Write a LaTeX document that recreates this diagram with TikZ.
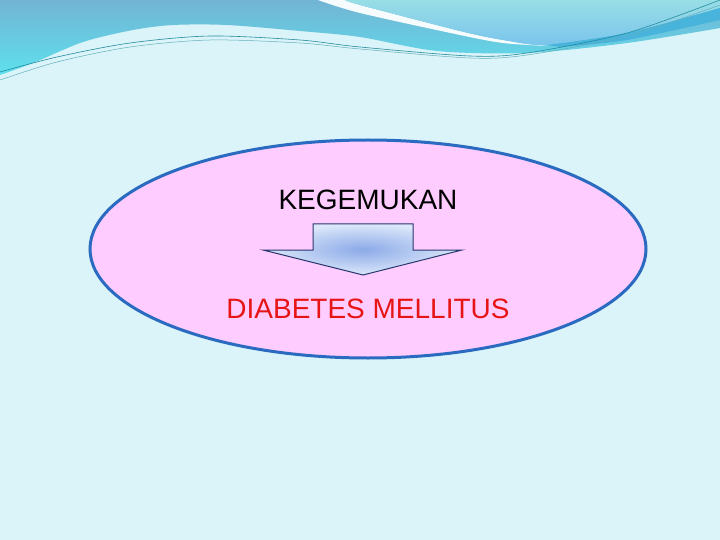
\documentclass[tikz,border=0pt]{standalone}
\usepackage{fontspec}
\setmainfont{Liberation Sans}
\usetikzlibrary{shapes.geometric}

\definecolor{bgcyan}{RGB}{218,244,249}
\definecolor{wavedark}{RGB}{114,180,212}
\definecolor{wavebright}{RGB}{94,224,236}
\definecolor{swooshtop}{RGB}{152,222,230}
\definecolor{swooshlow}{RGB}{122,196,236}
\definecolor{stripeblue}{RGB}{72,180,220}
\definecolor{tealline}{RGB}{36,140,156}
\definecolor{ovalpink}{RGB}{255,204,255}
\definecolor{ovalblue}{RGB}{42,106,192}
\definecolor{arrowlight}{RGB}{220,232,250}
\definecolor{arrowmid}{RGB}{140,170,232}
\definecolor{arrowedge}{RGB}{40,56,110}
\definecolor{textred}{RGB}{230,20,20}

\tikzset{
  label/.style={font=\fontsize{28}{33}\selectfont, inner sep=0pt},
  arrowline/.style={draw=arrowedge, line width=1pt, inner color=arrowmid, outer color=arrowlight},
}

\begin{document}
\begin{tikzpicture}[x=1pt, y=-1pt]
  \fill[bgcyan] (0,0) rectangle (720,540);
  \useasboundingbox (0,0) rectangle (720,540);

  % top wave
  \shade[top color=wavedark, bottom color=wavebright]
    (0,0) -- (720,0) -- plot[smooth] coordinates {(720,28) (627,43) (527,53) (437,51)
      (360,37) (300,31) (227,25) (173,25) (133,30) (83,42) (33,63) (0,75)} -- cycle;
  \fill[white!75!bgcyan] plot[smooth] coordinates {(318,0) (360,13) (460,35) (503,43) (547,46)}
    -- plot[smooth] coordinates {(547,46) (503,40) (460,31) (360,5) (345,0)} -- cycle;
  \shade[top color=swooshtop, bottom color=swooshlow]
    plot[smooth] coordinates {(345,0) (360,5) (460,31) (503,40) (547,45) (627,33) (720,8)}
    -- (720,0) -- cycle;
  \fill[stripeblue] plot[smooth] coordinates {(547,45) (627,33) (720,8)}
    -- plot[smooth] coordinates {(720,20) (627,40) (560,47)} -- cycle;
  \draw[tealline, line width=0.6pt] plot[smooth] coordinates {(0,72) (57,57) (130,43) (210,36)
    (300,40) (360,47) (470,56) (527,53) (627,33) (720,0)};
  \draw[tealline!70, line width=0.5pt] plot[smooth] coordinates {(0,80) (57,62) (130,47) (210,40)
    (300,43) (360,49) (470,58) (527,55) (627,36) (720,5)};

  % oval
  \node[ellipse, draw=ovalblue, line width=3pt, fill=ovalpink,
        minimum width=556pt, minimum height=218pt] (oval) at (368,249) {};

  \node[label] (kegemukan) at (368,200) {KEGEMUKAN};
  \node[label, textred] (diabetes) at (368,309) {DIABETES MELLITUS};

  % arrow
  \path[arrowline] (313,224) -- (413,224) -- (413,250) -- (462,250) -- (363,275)
    -- (263,250) -- (313,250) -- cycle;

\end{tikzpicture}
\end{document}
